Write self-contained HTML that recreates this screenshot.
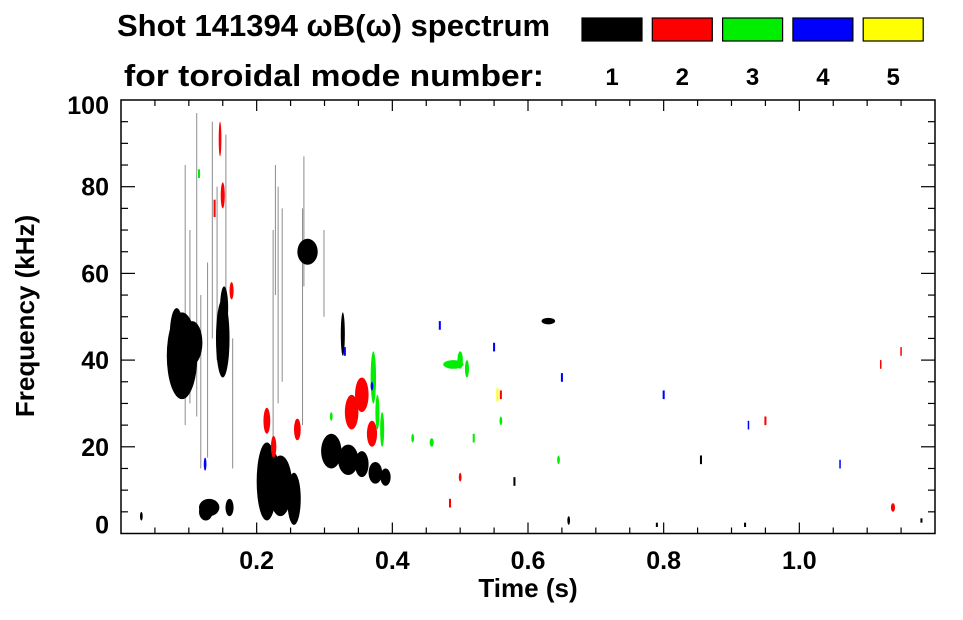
<!DOCTYPE html>
<html><head><meta charset="utf-8"><style>
body{margin:0;background:#fff;width:963px;height:615px;overflow:hidden}
text{font-family:"Liberation Sans",sans-serif;font-weight:bold}
</style></head><body>
<svg id="chart" width="963" height="615" xmlns="http://www.w3.org/2000/svg">
<g>
<text x="117" y="36" font-size="31">Shot 141394 ωB(ω) spectrum</text>
<text x="124" y="86" font-size="31" textLength="420" lengthAdjust="spacingAndGlyphs">for toroidal mode number:</text>
</g>
<g id="plot"></g>
<g id="axes"></g>
<text x="528" y="597" font-size="26" text-anchor="middle">Time (s)</text>
<text transform="translate(34,316) rotate(-90)" font-size="26" text-anchor="middle">Frequency (kHz)</text>
</svg>
<script>
const modeColors=["#000","#ff0000","#00ee00","#0000ff","#ffff00"];
const modeLabels=["1","2","3","4","5"];
const xTicks=[0.2,0.4,0.6,0.8,1.0];
const xTickLabels=["0.2","0.4","0.6","0.8","1.0"];
const yTicks=[0,20,40,60,80,100];
const yTickLabels=["0","20","40","60","80","100"];
// blobs: time (s), freq (kHz), time span, freq span, mode (1-5)
const blobT=[0.09,0.082,0.105,0.15,0.152,0.13,0.125,0.16,0.215,0.235,0.255,0.222,0.275,0.31,0.335,0.355,0.375,0.39,0.63,0.327,
0.095,0.102,0.112,0.118,0.128,0.135,0.142,0.155,0.165,0.225,0.232,0.228,0.238,0.268,0.27,0.30,
0.146,0.15,0.163,0.215,0.225,0.26,0.34,0.355,0.37,0.138,0.5,0.56,0.95,1.138,1.15,0.485,
0.372,0.378,0.385,0.49,0.5,0.51,0.43,0.458,0.52,0.56,0.645,0.31,0.115,
0.124,0.33,0.37,0.47,0.65,0.8,0.925,1.06,0.55,
0.555,0.03,0.66,0.79,0.92,1.18,0.58,0.855,1.12];
const blobF=[41,46,44,45,52,6,5,6,12,11,8,16,65,19,17,16,14,13,49,46,
55,50,62,35,40,70,60,72,30,45,55,70,55,50,72,60,
91,78,56,26,20,24,28,32,23,75,13,32,26,6,42,7,
36,28,24,39,40,38,22,21,22,26,17,27,83,
16,42,34,48,36,32,25,16,43,
32,4,3,2,2,3,12,17,39];
const blobDT=[0.045,0.02,0.03,0.02,0.012,0.03,0.02,0.012,0.03,0.035,0.02,0.02,0.03,0.03,0.03,0.02,0.02,0.015,0.02,0.006,
0.002,0.002,0.002,0.002,0.002,0.002,0.002,0.002,0.002,0.003,0.002,0.002,0.002,0.002,0.002,0.003,
0.004,0.006,0.006,0.01,0.008,0.01,0.02,0.02,0.015,0.003,0.004,0.003,0.003,0.006,0.002,0.003,
0.008,0.006,0.006,0.03,0.008,0.006,0.004,0.006,0.003,0.004,0.004,0.004,0.003,
0.004,0.003,0.004,0.003,0.003,0.003,0.002,0.002,0.003,
0.003,0.004,0.004,0.003,0.003,0.003,0.003,0.003,0.002];
const blobDF=[20,12,10,18,10,4,4,4,18,14,12,6,6,8,7,6,5,4,1.5,10,
60,40,70,40,45,50,40,40,30,50,50,30,40,50,30,20,
8,6,4,6,5,5,8,8,6,4,2,2,2,2,2,2,
12,8,8,2,4,4,2,2,2,2,2,2,2,
3,2,2,2,2,2,2,2,2,
3,2,2,1,1,1,2,2,2];
const blobMode=[1,1,1,1,1,1,1,1,1,1,1,1,1,1,1,1,1,1,1,1,
1,1,1,1,1,1,1,1,1,1,1,1,1,1,1,1,
2,2,2,2,2,2,2,2,2,2,2,2,2,2,2,2,
3,3,3,3,3,3,3,3,3,3,3,3,3,
4,4,4,4,4,4,4,4,4,
5,1,1,1,1,1,1,1,2];
const X0=121,X1=935,Y0=533.5,Y1=100;
const xs=t=>X0+(t/1.2)*(X1-X0);
const ys=f=>Y0-(f/100)*(Y0-Y1);
const NS="http://www.w3.org/2000/svg";
function mk(tag,attrs,parent){const e=document.createElementNS(NS,tag);for(const k in attrs)e.setAttribute(k,attrs[k]);parent.appendChild(e);return e;}
const svg=document.getElementById('chart');
const plot=document.getElementById('plot');
const axes=document.getElementById('axes');
modeLabels.forEach((lab,i)=>{
  const x=582+i*70.3;
  const r=mk('rect',{x:x,y:18,width:60,height:23,fill:modeColors[i],stroke:'#000','stroke-width':1.2},svg);
  
  
  const t=mk('text',{x:x+30,y:85,'font-size':24,'text-anchor':'middle'},svg);
  t.textContent=lab;
  
  
});
for(let i=0;i<blobT.length;i++){
  const cx=xs(blobT[i]),cy=ys(blobF[i]);
  const w=Math.max(1.5,xs(blobDT[i])-xs(0)),h=Math.max(2,ys(0)-ys(blobDF[i]));
  const thin=blobDT[i]<=0.003;
  const e=thin?mk('rect',{x:cx-w/2,y:cy-h/2,width:blobDF[i]>10?1:w,height:h,fill:modeColors[blobMode[i]-1],opacity:blobDF[i]>10?0.45:1},plot)
             :mk('ellipse',{cx:cx,cy:cy,rx:w/2,ry:h/2,fill:modeColors[blobMode[i]-1]},plot);
  
  
}
const fr=mk('rect',{x:X0,y:Y1,width:X1-X0,height:Y0-Y1,fill:'none',stroke:'#000','stroke-width':1.5},axes);


for(let t=0.05;t<1.2;t+=0.05){
  const major=Math.abs(t*10-Math.round(t*10))<1e-6&&Math.round(t*10)%2===0;
  const L=major?11:6;const x=xs(t);
  mk('line',{x1:x,x2:x,y1:Y0,y2:Y0-L,stroke:'#000','stroke-width':1.2},axes);
  mk('line',{x1:x,x2:x,y1:Y1,y2:Y1+L,stroke:'#000','stroke-width':1.2},axes);
}
for(let f=5;f<100;f+=5){
  const major=f%20===0;const L=major?14:7;const y=ys(f);
  mk('line',{x1:X0,x2:X0+L,y1:y,y2:y,stroke:'#000','stroke-width':1.2},axes);
  mk('line',{x1:X1,x2:X1-L,y1:y,y2:y,stroke:'#000','stroke-width':1.2},axes);
}
xTicks.forEach((t,i)=>{
  const e=mk('text',{x:xs(t),y:569,'font-size':25,'text-anchor':'middle'},axes);
  e.textContent=xTickLabels[i];
  
  
});
yTicks.forEach((f,i)=>{
  let y=ys(f)+9; if(f===0)y=ys(f)+0; if(f===100)y=ys(f)+14;
  const e=mk('text',{x:109,y:y,'font-size':25,'text-anchor':'end'},axes);
  e.textContent=yTickLabels[i];
  
  
});
</script>
</body></html>
